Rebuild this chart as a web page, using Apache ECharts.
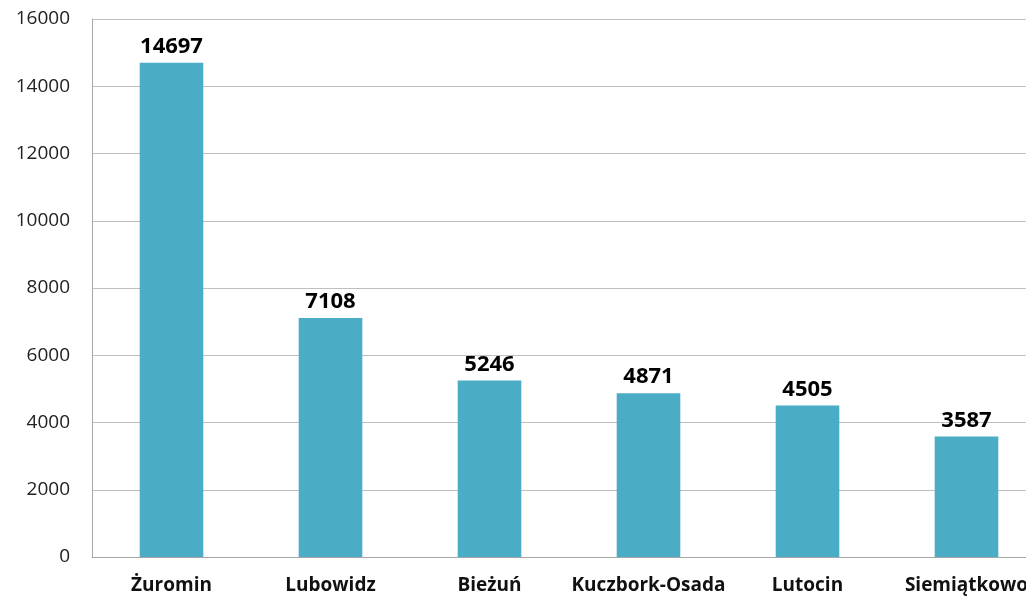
<!DOCTYPE html>
<html>
<head>
<meta charset="utf-8">
<script src="https://cdn.jsdelivr.net/npm/echarts@6/dist/echarts.min.js"></script>
<style>
  html, body { margin: 0; padding: 0; background: #fff; overflow: hidden; }
  /* the plot runs past the right edge of the window, so the last column is clipped */
  #chart { width: 1046px; height: 601px; }
</style>
</head>
<body>
<div id="chart"></div>
<script>
// Gminy and their values
const categories = ['Żuromin', 'Lubowidz', 'Bieżuń', 'Kuczbork-Osada', 'Lutocin', 'Siemiątkowo'];
const values = [14697, 7108, 5246, 4871, 4505, 3587];
const yTicks = { min: 0, max: 16000, interval: 2000 };

const chart = echarts.init(document.getElementById('chart'), null, { renderer: 'canvas' });
chart.setOption({
  animation: false,
  grid: { left: 92, right: 0, top: 19, bottom: 44, containLabel: false },
  xAxis: {
    type: 'category',
    data: categories,
    axisLine: { lineStyle: { color: '#a6a6a6', width: 1 } },
    axisTick: { show: false },
    axisLabel: {
      interval: 0,
      margin: 19,
      color: '#111',
      fontFamily: 'Open Sans',
      fontWeight: 'bold',
      fontSize: 19
    }
  },
  yAxis: {
    type: 'value',
    min: yTicks.min,
    max: yTicks.max,
    interval: yTicks.interval,
    axisLine: { show: true, lineStyle: { color: '#a6a6a6', width: 1 } },
    axisTick: { show: false },
    splitLine: { lineStyle: { color: '#bfbfbf', width: 1 } },
    axisLabel: {
      margin: 22,
      color: '#222',
      fontFamily: 'Open Sans',
      fontSize: 19,
      formatter: v => String(v)
    }
  },
  series: [{
    type: 'bar',
    data: values,
    barWidth: '40%',
    itemStyle: { color: '#4bacc6' },
    label: {
      show: true,
      position: 'top',
      distance: 5,
      color: '#000',
      fontFamily: 'Open Sans',
      fontWeight: 'bold',
      fontSize: 22
    }
  }]
});
</script>
</body>
</html>
